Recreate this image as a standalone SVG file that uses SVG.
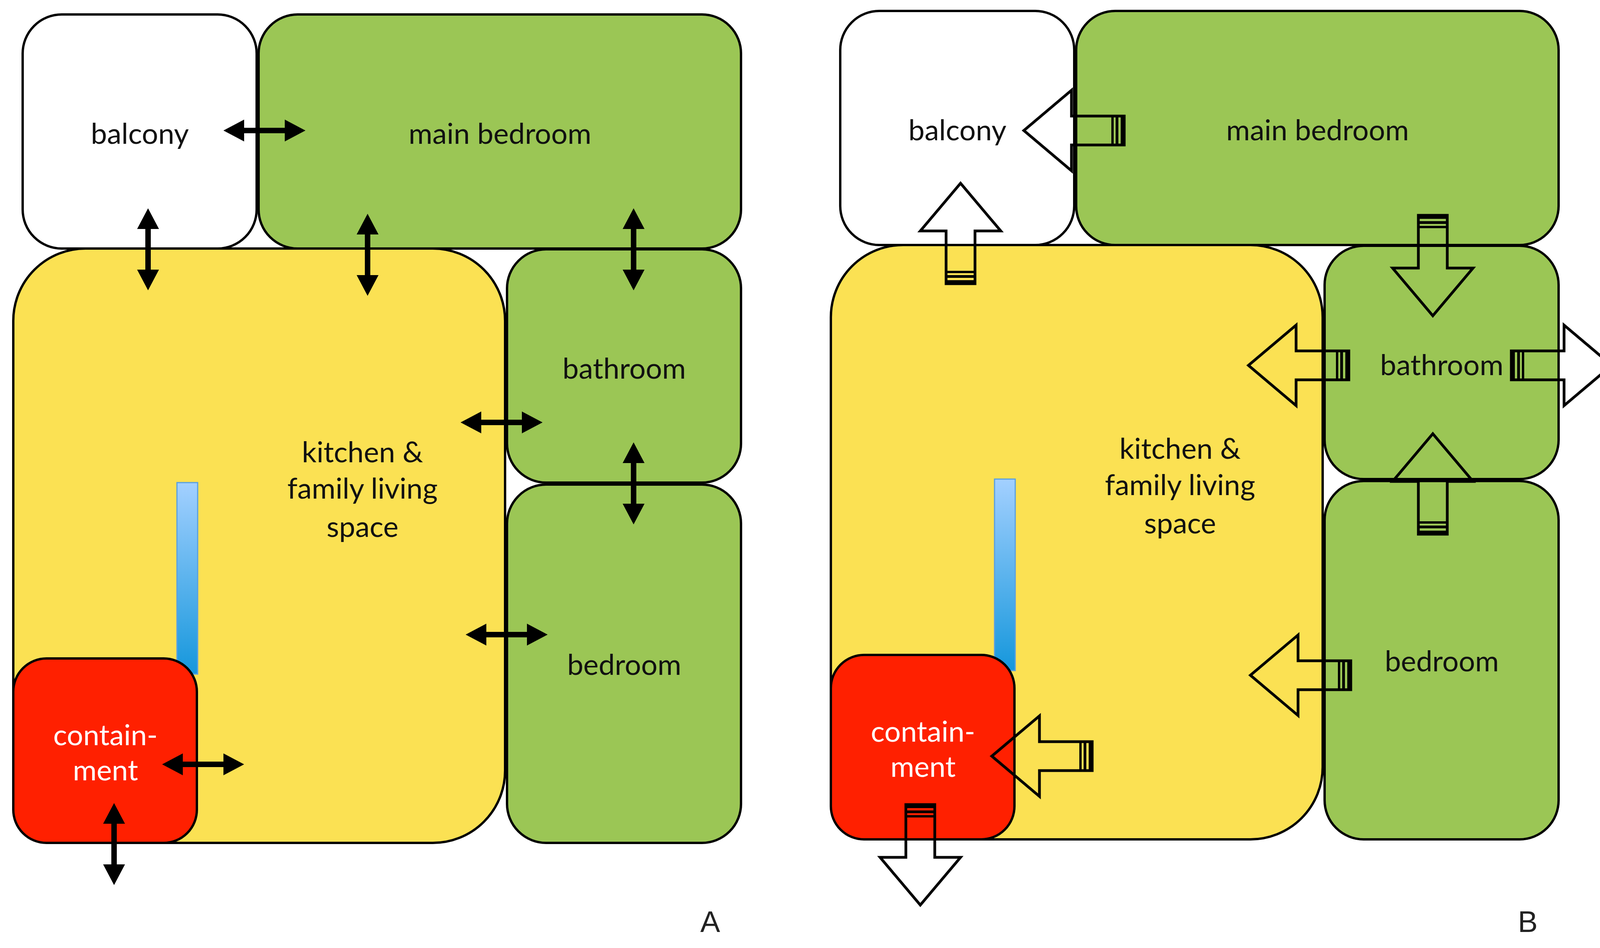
<svg xmlns="http://www.w3.org/2000/svg" xmlns:xlink="http://www.w3.org/1999/xlink" width="4150" height="2426" viewBox="0 0 4150 2426">
<style>
.room{stroke:#000;stroke-width:6}
.w{fill:#fff}.g{fill:#9BC655}.y{fill:#FBE153}.r{fill:#FF2000}
text{font-family:Lato,"Open Sans",sans-serif;font-size:74px;text-anchor:middle;fill:#111}
.lbl{font-family:"Liberation Sans",sans-serif;font-size:76px;fill:#222}
</style>
<defs>
<linearGradient id="blue" x1="0" y1="0" x2="0" y2="1"><stop offset="0" stop-color="#A3D0FF"/><stop offset="1" stop-color="#1597DC"/></linearGradient>
<path id="dbl" d="M-105,0 L-52,-28 L-52,-7 L52,-7 L52,-28 L105,0 L52,28 L52,7 L-52,7 L-52,28 Z" fill="#000"/>
<g id="blk">
<path d="M0,-37 L135,-37 L135,-103 L257,0 L135,103 L135,37 L0,37 Z" fill="none" stroke="#000" stroke-width="7"/>
<rect x="0" y="-37" width="9" height="74" fill="#000"/>
<rect x="15" y="-37" width="7" height="74" fill="#000"/>
<rect x="27" y="-37" width="6" height="74" fill="#000"/>
</g>
</defs>
<g id="panelA">
<g id="a-kitchen"><rect class="room y" x="34" y="636" width="1259" height="1521" rx="185"/>
<text x="928" y="1183">kitchen &amp;</text><text x="928" y="1276">family living</text><text x="928" y="1374">space</text></g>
<rect id="a-bluebar" x="453" y="1235" width="53" height="490" fill="url(#blue)" stroke="#5aa0e0" stroke-width="3"/>
<g id="a-balcony"><rect class="room w" x="58" y="37" width="599" height="599" rx="100"/><text x="358" y="368">balcony</text></g>
<g id="a-mainbedroom"><rect class="room g" x="662" y="37" width="1235" height="599" rx="100"/><text x="1280" y="368">main bedroom</text></g>
<g id="a-bathroom"><rect class="room g" x="1298" y="638" width="599" height="597" rx="100"/><text x="1598" y="969">bathroom</text></g>
<g id="a-bedroom"><rect class="room g" x="1298" y="1240" width="599" height="917" rx="100"/><text x="1598" y="1727">bedroom</text></g>
<g id="a-containment"><rect class="room r" x="34" y="1685" width="470" height="472" rx="85"/>
<text x="270" y="1907" fill="#fff" style="fill:#fff">contain-</text><text x="270" y="1997" style="fill:#fff">ment</text></g>
<text class="lbl" x="1818" y="2385">A</text>
</g>
<g id="connectorsA">
<use xlink:href="#dbl" transform="translate(677,334)"/>
<use xlink:href="#dbl" transform="translate(379,638) rotate(90)"/>
<use xlink:href="#dbl" transform="translate(941,652) rotate(90)"/>
<use xlink:href="#dbl" transform="translate(1622,638) rotate(90)"/>
<use xlink:href="#dbl" transform="translate(1284,1081)"/>
<use xlink:href="#dbl" transform="translate(1622,1237) rotate(90)"/>
<use xlink:href="#dbl" transform="translate(1297,1624)"/>
<use xlink:href="#dbl" transform="translate(520,1956)"/>
<use xlink:href="#dbl" transform="translate(292,2160) rotate(90)"/>
</g>
<g id="panelB" transform="translate(2093,-9)">
<g id="b-kitchen"><rect class="room y" x="34" y="636" width="1259" height="1521" rx="185"/>
<text x="928" y="1183">kitchen &amp;</text><text x="928" y="1276">family living</text><text x="928" y="1374">space</text></g>
<rect id="b-bluebar" x="453" y="1235" width="53" height="490" fill="url(#blue)" stroke="#5aa0e0" stroke-width="3"/>
<g id="b-balcony"><rect class="room w" x="58" y="37" width="599" height="599" rx="100"/><text x="358" y="368">balcony</text></g>
<g id="b-mainbedroom"><rect class="room g" x="662" y="37" width="1235" height="599" rx="100"/><text x="1280" y="368">main bedroom</text></g>
<g id="b-bathroom"><rect class="room g" x="1298" y="638" width="599" height="597" rx="100"/><text x="1598" y="969">bathroom</text></g>
<g id="b-bedroom"><rect class="room g" x="1298" y="1240" width="599" height="917" rx="100"/><text x="1598" y="1727">bedroom</text></g>
<g id="b-containment"><rect class="room r" x="34" y="1685" width="470" height="472" rx="85"/>
<text x="270" y="1907" style="fill:#fff">contain-</text><text x="270" y="1997" style="fill:#fff">ment</text></g>
<text class="lbl" x="1818" y="2394">B</text>
</g>
<g id="connectorsB">
<use xlink:href="#blk" transform="translate(2878,334) rotate(180)"/>
<use xlink:href="#blk" transform="translate(2459,726) rotate(-90)"/>
<use xlink:href="#blk" transform="translate(3668,551) rotate(90)"/>
<use xlink:href="#blk" transform="translate(3453,935) rotate(180)"/>
<use xlink:href="#blk" transform="translate(3869,935)"/>
<use xlink:href="#blk" transform="translate(3668,1367) rotate(-90)"/>
<use xlink:href="#blk" transform="translate(3458,1728) rotate(180)"/>
<use xlink:href="#blk" transform="translate(2796,1935) rotate(180)"/>
<use xlink:href="#blk" transform="translate(2356,2059) rotate(90)"/>
</g>
</svg>
